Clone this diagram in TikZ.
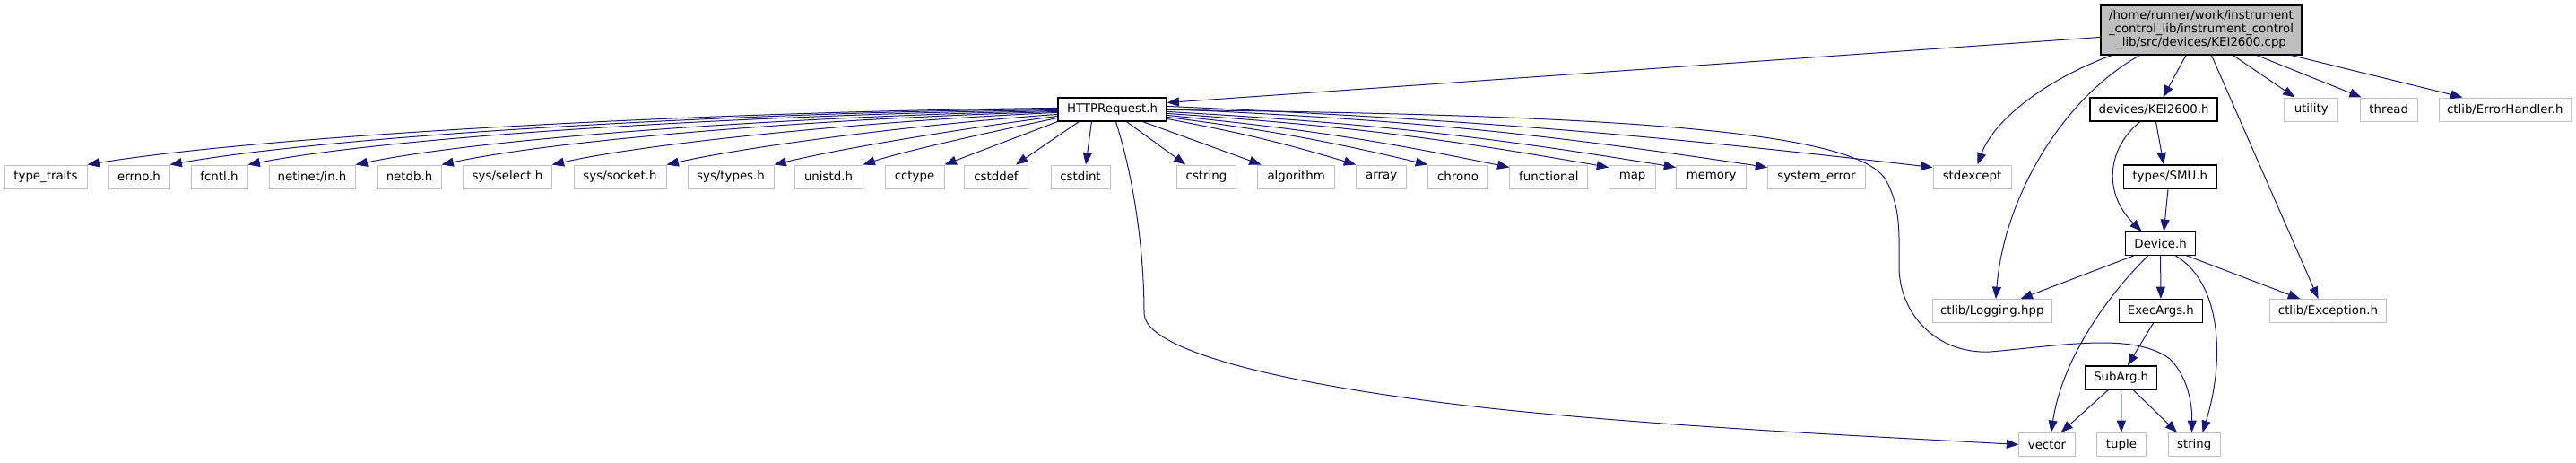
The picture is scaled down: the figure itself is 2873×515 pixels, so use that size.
\documentclass[tikz,border=0pt]{standalone}
\usepackage{fontspec}
\setmainfont{DejaVu Sans}
\usetikzlibrary{arrows.meta,calc}
\definecolor{edgeblue}{HTML}{191970}
\definecolor{boxgrey}{HTML}{BFBFBF}
\begin{document}
\begin{tikzpicture}[x=0.75pt,y=-0.75pt,
  box/.style={rectangle, inner sep=0pt, minimum height=19.5pt, font=\fontsize{10}{11.25}\selectfont},
  ext/.style={box, draw=boxgrey, line width=0.75pt, fill=white},
  doc/.style={box, draw=black, line width=0.85pt, fill=white},
  wd/.style={minimum width=#1*0.75pt},
  conn/.style={draw=edgeblue, color=edgeblue, line width=0.75pt, -{Triangle[length=10pt,width=7.5pt]}}]
\useasboundingbox (0,0) rectangle (2873,515);

% top node
\node[doc, fill=boxgrey, wd=224, minimum height=41.25pt, align=center] (cpp) at (2455,33.5)
  {/home/runner/work/instrument\\\_control\_lib/instrument\_control\\\_lib/src/devices/KEI2600.cpp};

% row 1
\node[doc, wd=121]   (http)   at (1240.5,122) {HTTPRequest.h};
\node[doc, wd=142]   (devkei) at (2402,122)   {devices/KEI2600.h};
\node[ext, wd=60.5]  (util)   at (2577.7,122) {utility};
\node[ext, wd=64]    (thr)    at (2664.2,122) {thread};
\node[ext, wd=146.6] (errh)   at (2793.7,122) {ctlib/ErrorHandler.h};

% row 2
\node[ext, wd=92]    (tt)      at (51,197)     {type\_traits};
\node[ext, wd=68]    (errno)   at (155,197)    {errno.h};
\node[ext, wd=63]    (fcntl)   at (244.5,197)  {fcntl.h};
\node[ext, wd=96]    (netin)   at (348,197)    {netinet/in.h};
\node[ext, wd=71]    (netdb)   at (456.5,197)  {netdb.h};
\node[ext, wd=98.5]  (sysel)   at (566,197)    {sys/select.h};
\node[ext, wd=103]   (sysock)  at (691.5,197)  {sys/socket.h};
\node[ext, wd=96]    (systy)   at (815,197)    {sys/types.h};
\node[ext, wd=76]    (unistd)  at (924,197)    {unistd.h};
\node[ext, wd=66]    (cctype)  at (1020,197)   {cctype};
\node[ext, wd=71]    (cstddef) at (1111,197)   {cstddef};
\node[ext, wd=66]    (cstdint) at (1205,197)   {cstdint};
\node[ext, wd=66]    (cstring) at (1345.5,197) {cstring};
\node[ext, wd=86]    (algo)    at (1445.7,197) {algorithm};
\node[ext, wd=56]    (array)   at (1540.7,197) {array};
\node[ext, wd=66.7]  (chrono)  at (1626,197)   {chrono};
\node[ext, wd=87]    (func)    at (1727.3,197) {functional};
\node[ext, wd=52]    (map)     at (1820.6,197) {map};
\node[ext, wd=78]    (memory)  at (1908.6,197) {memory};
\node[ext, wd=108.7] (syserr)  at (2025.9,197) {system\_error};
\node[ext, wd=87]    (stdexc)  at (2199.5,197) {stdexcept};
\node[doc, wd=104.5] (smu)     at (2420.3,197) {types/SMU.h};

% row 3
\node[doc, wd=78] (device) at (2409.6,271.5) {Device.h};

% row 4
\node[ext, wd=132.6] (logging)   at (2221.7,346.5) {ctlib/Logging.hpp};
\node[doc, wd=93.3]  (execargs)  at (2409.9,346.5) {ExecArgs.h};
\node[ext, wd=130.3] (exception) at (2596.5,346.5) {ctlib/Exception.h};

% row 5
\node[doc, wd=80] (subarg) at (2365.7,421) {SubArg.h};

% row 6
\node[ext, wd=62.6] (vector) at (2283,495.5)   {vector};
\node[ext, wd=54.5] (tuple)  at (2365.9,495.5) {tuple};
\node[ext, wd=58.4] (string) at (2447.2,495.5) {string};

% edges from cpp
\draw[conn] ($(cpp.north west)+(0,36)$) -- ($(http.north east)+(0,6)$);
\draw[conn] ($(cpp.south west)+(13,0)$) .. controls (2290,85) and (2225,130) .. ($(stdexc.north west)+(50,0)$);
\draw[conn] ($(cpp.south west)+(44,0)$) .. controls (2300,110) and (2235,220) .. ($(logging.north west)+(71,0)$);
\draw[conn] ($(cpp.south west)+(95.6,0)$) -- ($(devkei.north west)+(82,0)$);
\draw[conn] ($(cpp.south west)+(124,0)$) -- ($(exception.north west)+(54.7,0)$);
\draw[conn] ($(cpp.south west)+(148,0)$) -- ($(util.north west)+(12.5,0)$);
\draw[conn] ($(cpp.south west)+(174.5,0)$) -- ($(thr.north west)+(2,0)$);
\draw[conn] ($(cpp.south west)+(213,0)$) -- ($(errh.north west)+(26.6,0)$);

% devices/KEI2600.h
\draw[conn] ($(devkei.south west)+(74,0)$) -- ($(smu.north west)+(45.7,0)$);
\draw[conn] ($(devkei.south west)+(56.5,0)$) .. controls (2350,165) and (2345,215) .. ($(device.north west)+(18.5,0)$);
\draw[conn] ($(smu.south west)+(50.5,0)$) -- ($(device.north west)+(43.3,0)$);

% Device.h
\draw[conn] ($(device.south west)+(9.5,0)$) -- ($(logging.north east)+(-35,0)$);
\draw[conn] (device.south) -- (execargs.north);
\draw[conn] ($(device.south west)+(69.2,0)$) -- ($(exception.north west)+(34.3,0)$);
\draw[conn] ($(device.south west)+(25.5,0)$) .. controls (2350,330) and (2300,400) .. ($(vector.north west)+(36.4,0)$);
\draw[conn] ($(device.south west)+(56.5,0)$) .. controls (2477,315) and (2482,400) .. ($(string.north west)+(39,0)$);

% ExecArgs / SubArg
\draw[conn] ($(execargs.south west)+(38.8,0)$) -- ($(subarg.north west)+(47.8,0)$);
\draw[conn] ($(subarg.south west)+(26.3,0)$) -- ($(vector.north west)+(47.4,0)$);
\draw[conn] (subarg.south) -- (tuple.north);
\draw[conn] ($(subarg.south west)+(54,0)$) -- ($(string.north west)+(10.5,0)$);

% HTTPRequest.h, left side
\draw[conn] ($(http.north west)+(0,12)$) .. controls (801,124) and (303,150) .. (tt.north east);
\draw[conn] ($(http.north west)+(0,13)$) .. controls (833,125) and (380,150) .. (errno.north east);
\draw[conn] ($(http.north west)+(0,14)$) .. controls (864,127) and (450,150) .. (fcntl.north east);
\draw[conn] ($(http.north west)+(0,15)$) .. controls (906,129) and (550,152) .. (netin.north east);
\draw[conn] ($(http.north west)+(0,16)$) .. controls (940,131) and (630,154) .. (netdb.north east);
\draw[conn] ($(http.north west)+(0,17)$) .. controls (985,134) and (730,158) .. (sysel.north east);
\draw[conn] ($(http.north west)+(0,19)$) .. controls (1030,138) and (840,162) .. (sysock.north east);
\draw[conn] ($(http.north west)+(0,21)$) .. controls (1075,143) and (940,165) .. (systy.north east);
\draw[conn] ($(http.north west)+(0,23)$) .. controls (1110,146) and (1010,168) .. (unistd.north east);
\draw[conn] (http.south west) -- (cctype.north east);
\draw[conn] ($(http.south west)+(24,0)$) -- ($(cstddef.north west)+(58,0)$);
\draw[conn] ($(http.south west)+(38,0)$) -- ($(cstdint.north west)+(39.5,0)$);

% HTTPRequest.h -> vector
\draw[conn] ($(http.south west)+(65,0)$) .. controls (1262,190) and (1276,270) .. (1276,350)
  .. controls (1280,400) and (1500,440) .. (1711,460)
  .. controls (1900,478) and (2100,487) .. (vector.west);

% HTTPRequest.h, right side
\draw[conn] ($(http.south west)+(77,0)$) -- ($(cstring.north west)+(10.3,0)$);
\draw[conn] ($(http.south west)+(95,0)$) -- ($(algo.north west)+(4.4,0)$);
\draw[conn] ($(http.north east)+(0,24)$) to[bend left=3] (array.north west);
\draw[conn] ($(http.north east)+(0,22)$) to[bend left=3] (chrono.north west);
\draw[conn] ($(http.north east)+(0,20)$) to[bend left=3] ($(func.north west)+(0,3)$);
\draw[conn] ($(http.north east)+(0,18)$) to[bend left=3] ($(map.north west)+(0,3)$);
\draw[conn] ($(http.north east)+(0,16)$) to[bend left=3] ($(memory.north west)+(0,3)$);
\draw[conn] ($(http.north east)+(0,13)$) to[bend left=3] ($(syserr.north west)+(0,3)$);
\draw[conn] ($(http.north east)+(0,10)$) to[bend left=2] ($(stdexc.north west)+(0,3)$);

% HTTPRequest.h -> string
\draw[conn] ($(http.north east)+(0,14)$) .. controls (1800,128) and (2075,145) .. (2104,202)
  .. controls (2120,232) and (2118,260) .. (2118,297)
  .. controls (2118,350) and (2160,395) .. (2220,392)
  .. controls (2300,385) and (2380,370) .. (2420,400)
  .. controls (2440,420) and (2445,450) .. ($(string.north west)+(27,0)$);
\end{tikzpicture}
\end{document}
